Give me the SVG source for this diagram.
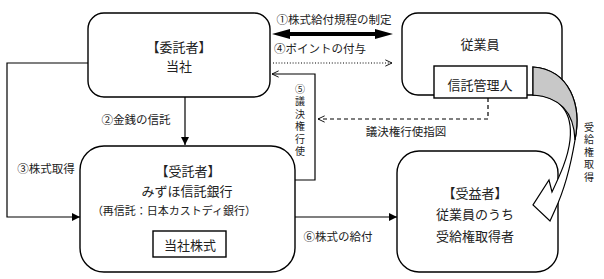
<svg xmlns="http://www.w3.org/2000/svg" width="604" height="279" viewBox="0 0 604 279">
<defs>
<style>
.box{fill:#fff;stroke:#000;stroke-width:1.4}
.t{font-family:"Noto Sans CJK JP","Noto Sans",sans-serif;fill:#222;text-anchor:middle;dominant-baseline:central}
.s{font-size:13px}
.m{font-size:11.5px}
.v2{font-size:10px}
.ln{fill:none;stroke:#000;stroke-width:1.2}
</style>
<marker id="fa" viewBox="0 0 10 10" refX="10" refY="5" markerWidth="8" markerHeight="8" markerUnits="userSpaceOnUse" orient="auto"><path d="M0,0 L10,5 L0,10 Z" fill="#000"/></marker>
<marker id="oa" viewBox="0 0 10 10" refX="9.5" refY="5" markerWidth="7" markerHeight="8" markerUnits="userSpaceOnUse" orient="auto"><path d="M0,0.5 L9.5,5 L0,9.5" fill="none" stroke="#000" stroke-width="1.3"/></marker>
</defs>
<rect width="604" height="279" fill="#fff"/>
<g id="itakusha">
<rect class="box" x="88" y="13" width="182" height="84" rx="16"/>
<text class="t s" x="179" y="46">【委託者】</text>
<text class="t s" x="179" y="65">当社</text>
</g>
<g id="jugyoin">
<rect class="box" x="402" y="13" width="160" height="82" rx="16"/>
<text class="t s" x="480" y="43">従業員</text>
</g>
<g id="shintakukanrinin">
<rect class="box" x="434" y="66" width="93" height="32"/>
<text class="t s" x="480" y="84">信託管理人</text>
</g>
<g id="jutakusha">
<rect class="box" x="80" y="146" width="215" height="126" rx="24"/>
<text class="t s" x="188" y="170">【受託者】</text>
<text class="t s" x="187" y="190">みずほ信託銀行</text>
<text class="t" style="font-size:11px" x="174" y="210">（再信託：日本カストディ銀行）</text>
</g>
<g id="toshakabushiki">
<rect class="box" x="153" y="231" width="73" height="26"/>
<text class="t s" x="190" y="244">当社株式</text>
</g>
<g id="juekisha">
<rect class="box" x="397" y="151" width="161" height="121" rx="22"/>
<text class="t s" x="475" y="192">【受益者】</text>
<text class="t s" x="475" y="213">従業員のうち</text>
<text class="t s" x="475" y="235">受給権取得者</text>
</g>
<g id="connectors">
<path d="M272,34 L290,29 L290,32 L375,32 L375,29 L393,34 L375,39 L375,36 L290,36 L290,39 Z" fill="#000"/>
<line x1="273" y1="63" x2="392" y2="63" class="ln" stroke-dasharray="1,1.8" marker-end="url(#oa)"/>
<path d="M295,180 L315,180 L315,74 L272,74" class="ln" marker-end="url(#oa)"/>
<path d="M488,98 L488,119 L318,119" class="ln" stroke-dasharray="4,3" marker-end="url(#oa)"/>
<line x1="185" y1="97" x2="185" y2="145" class="ln" marker-end="url(#fa)"/>
<path d="M88,63 L7,63 L7,217 L80,217" class="ln" marker-end="url(#fa)"/>
<line x1="295" y1="217" x2="397" y2="217" class="ln" marker-end="url(#fa)"/>
<path d="M533,67 C570,70 582,105 575,140 C570,170 562,195 555,210 L550,221 L533,205 L549,180 L552,192 C560,175 568,158 570,140 C573,112 560,96 533,95 Z" fill="#fff" stroke="#000" stroke-width="1.2"/>
<path d="M533,67 C570,70 582,105 575,140 C574,115 562,97 533,95 Z" fill="#c8c8c8" stroke="#000" stroke-width="1.2"/>
<text class="t m" x="334" y="19">①株式給付規程の制定</text>
<text class="t m" x="320" y="48">④ポイントの付与</text>
<text class="t m" x="136" y="119">②金銭の信託</text>
<text class="t m" x="46" y="168">③株式取得</text>
<text class="t m" x="338" y="236">⑥株式の給付</text>
<text class="t m" x="406" y="131">議決権行使指図</text>
<text class="t v2" x="300" y="88">⑤</text>
<text class="t v2" x="300" y="100.5">議</text>
<text class="t v2" x="300" y="113">決</text>
<text class="t v2" x="300" y="125.5">権</text>
<text class="t v2" x="300" y="138">行</text>
<text class="t v2" x="300" y="150.5">使</text>
<text class="t v2" x="589" y="126">受</text>
<text class="t v2" x="589" y="138.5">給</text>
<text class="t v2" x="589" y="151">権</text>
<text class="t v2" x="589" y="163.5">取</text>
<text class="t v2" x="589" y="176">得</text>
</g>
</svg>
